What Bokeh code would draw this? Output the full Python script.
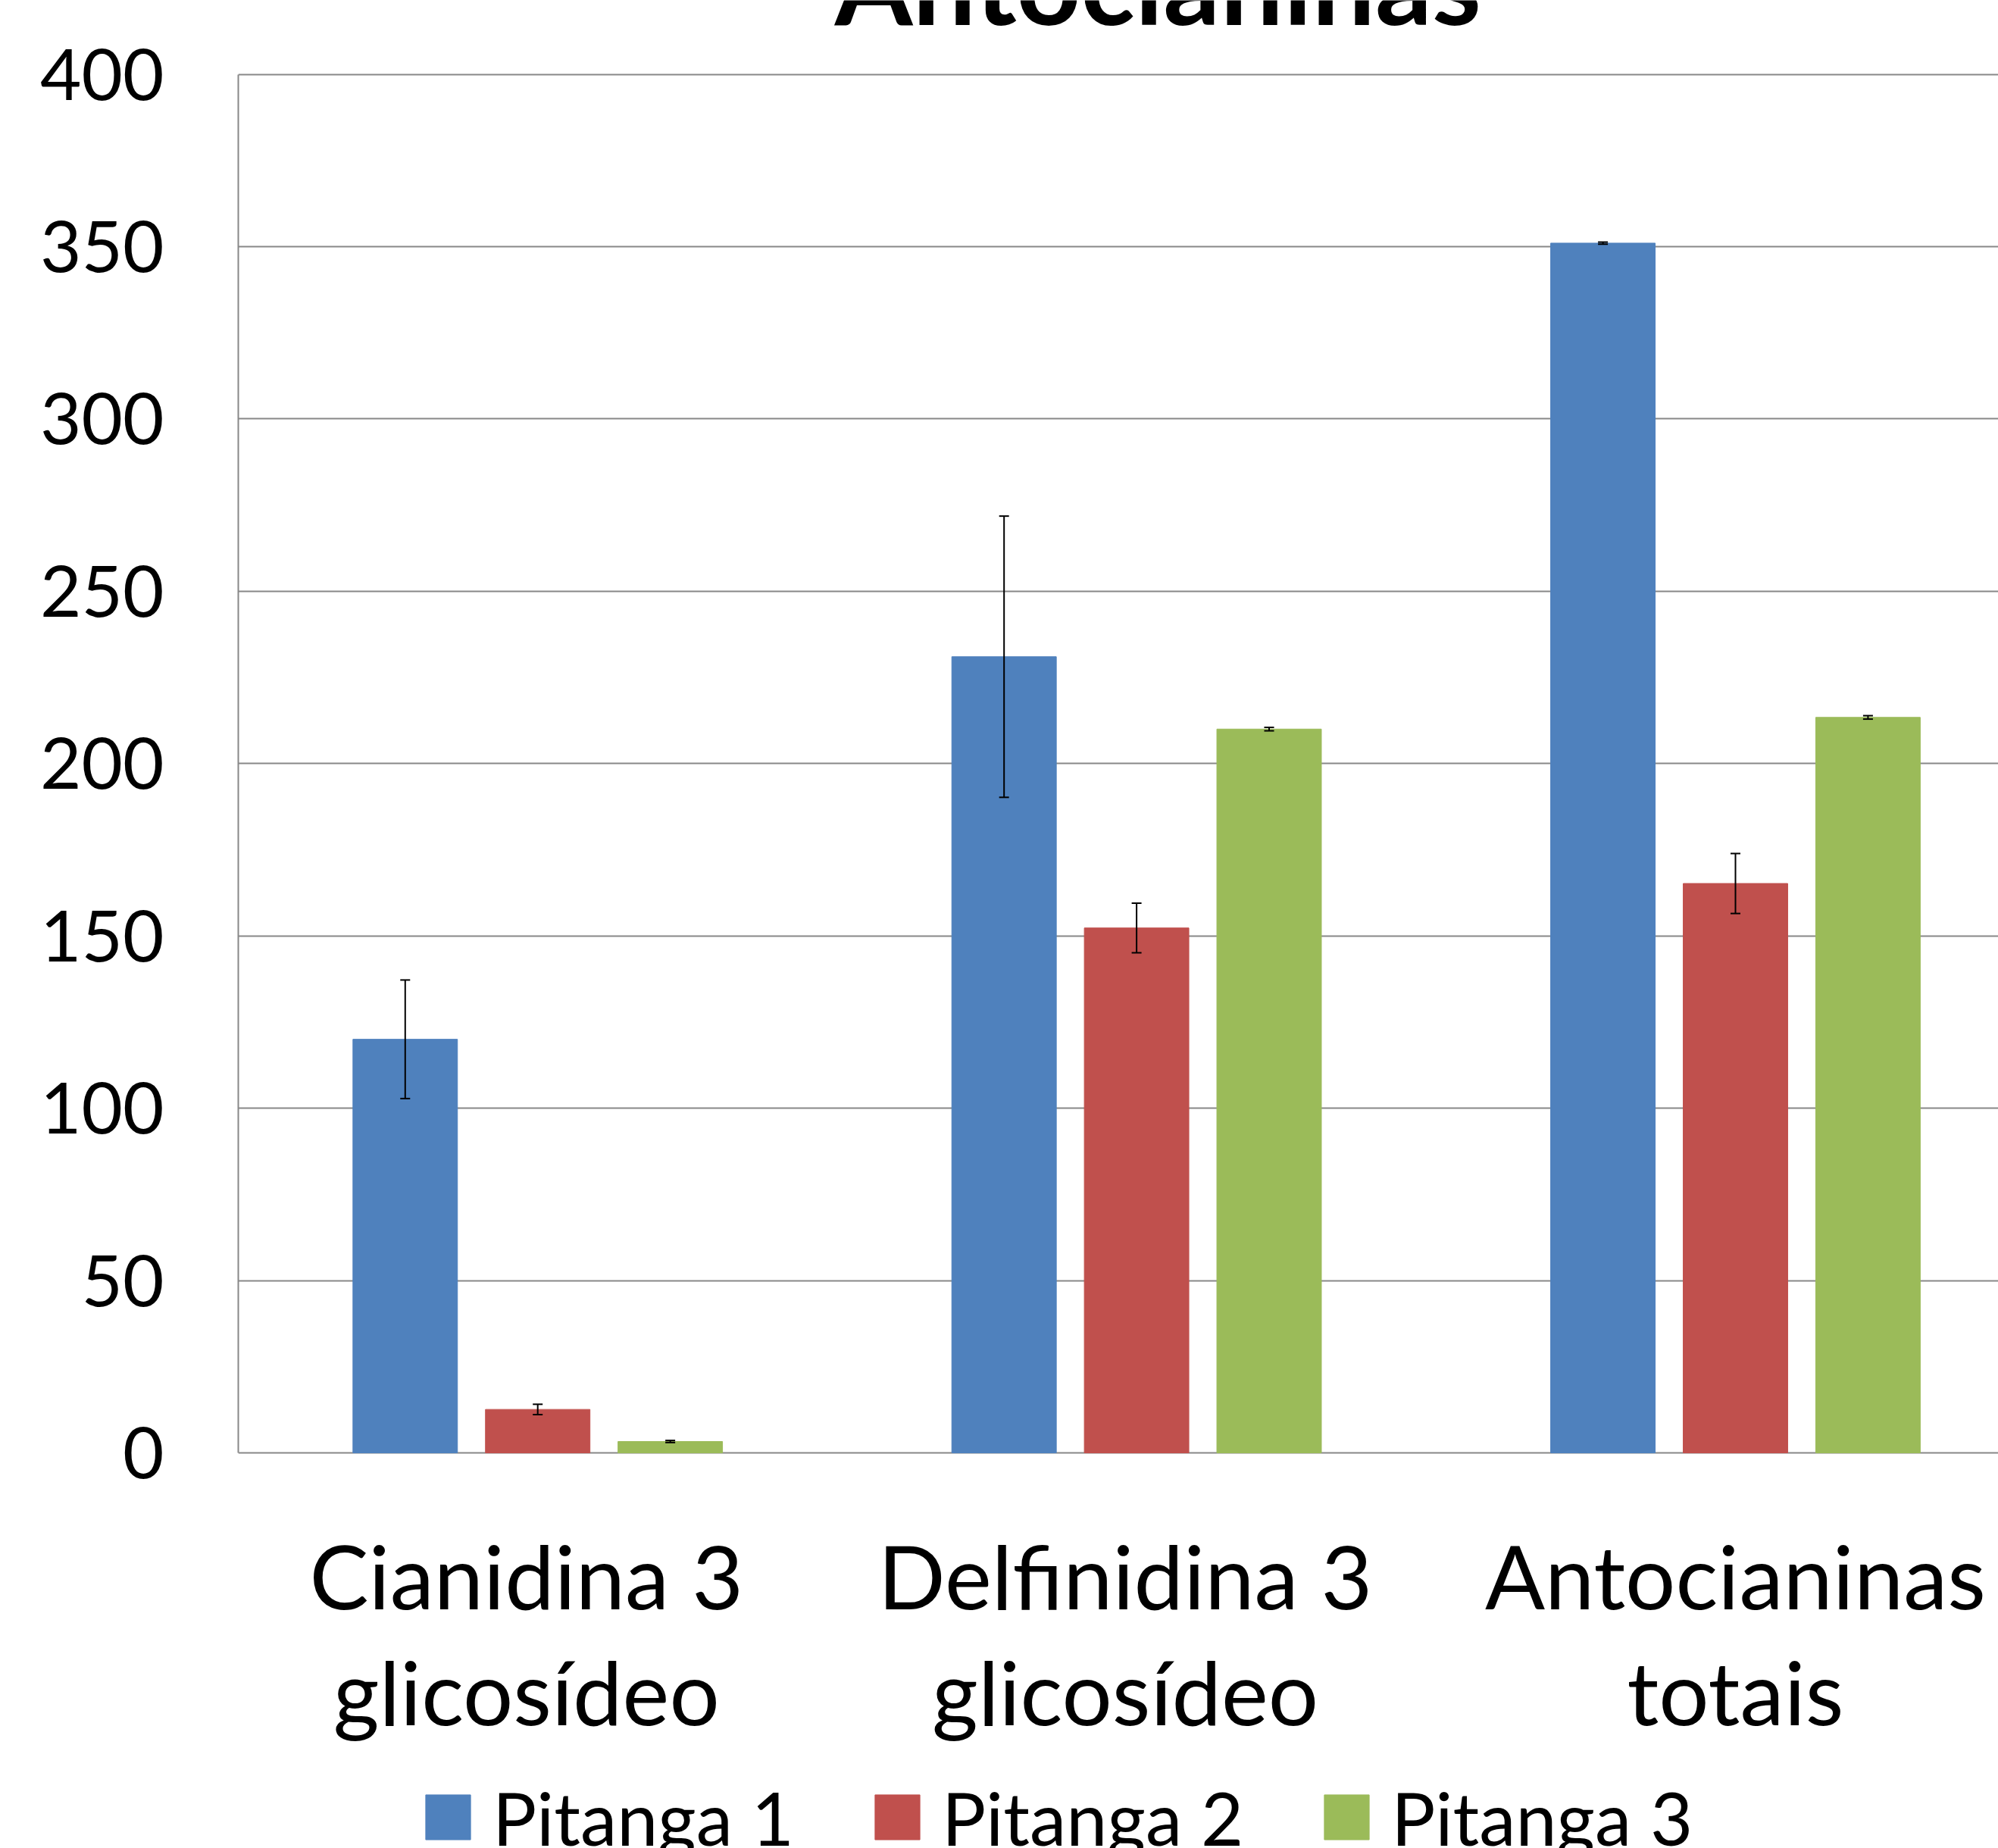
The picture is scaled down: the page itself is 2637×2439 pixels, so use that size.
from bokeh.plotting import figure
from bokeh.models import (ColumnDataSource, Range1d, FixedTicker, Whisker, TeeHead,
                          Legend, LegendItem, Label)
from bokeh.core.properties import value
from bokeh.embed import file_html
from bokeh.resources import INLINE

# ---- data ----
categories = ["Cianidina 3\nglicosídeo", "Delfinidina 3\nglicosídeo", "Antocianinas\ntotais"]
series_names = ["Pitanga 1", "Pitanga 2", "Pitanga 3"]
pitanga1 = [120.0, 231.0, 351.0]
pitanga1_err = [17.2, 40.8, 0.3]
pitanga2 = [12.6, 152.3, 165.2]
pitanga2_err = [1.5, 7.2, 8.7]
pitanga3 = [3.3, 210.0, 213.4]
pitanga3_err = [0.3, 0.5, 0.5]
y_ticks = [0, 50, 100, 150, 200, 250, 300, 350, 400]
title_text = "Antocianinas"

colors = ["#4F81BD", "#C0504D", "#9BBB59"]
FONT = "Lato"

W, H = 2637, 2439
LEFT = 314
TOP_PX, ZERO_PX = 97.5, 1917.0          # pixel rows of 400 and 0
k = (ZERO_PX - TOP_PX) / 400.0           # px per unit
y_top = 400 + TOP_PX / k
y_bot = -(H - ZERO_PX) / k
cat_px = 790.4
x_end = (W - LEFT) / cat_px

p = figure(width=W, height=H, output_backend="svg", toolbar_location=None,
           x_range=Range1d(0, x_end), y_range=Range1d(y_bot, y_top),
           x_axis_location=None,
           min_border_left=LEFT, min_border_right=0, min_border_top=0,
           min_border_bottom=0, background_fill_color="white",
           border_fill_color="white", outline_line_color=None)

centers = [0.5, 1.5, 2.5]
offsets = [-0.2213, 0.0, 0.2213]
bar_w = 0.1745
vals = [pitanga1, pitanga2, pitanga3]
errs = [pitanga1_err, pitanga2_err, pitanga3_err]

# grid
p.xgrid.visible = False
p.ygrid.ticker = FixedTicker(ticks=y_ticks)
p.ygrid.grid_line_color = "#888888"
p.ygrid.grid_line_width = 2

renderers = []
for i in range(3):
    xs = [c + offsets[i] for c in centers]
    src = ColumnDataSource(dict(x=xs, top=vals[i],
                                upper=[v + e for v, e in zip(vals[i], errs[i])],
                                lower=[v - e for v, e in zip(vals[i], errs[i])]))
    r = p.vbar(x="x", top="top", width=bar_w, bottom=0, source=src,
               fill_color=colors[i], line_color=colors[i], line_width=1)
    renderers.append(r)
    wh = Whisker(base="x", upper="upper", lower="lower", source=src, level="overlay",
                 line_color="black", line_width=2,
                 upper_head=TeeHead(size=13, line_color="black", line_width=2),
                 lower_head=TeeHead(size=13, line_color="black", line_width=2))
    p.add_layout(wh)

# y axis
p.yaxis.ticker = FixedTicker(ticks=y_ticks)
p.yaxis.bounds = (0, 400)
p.yaxis.axis_line_color = "#888888"
p.yaxis.axis_line_width = 2
p.yaxis.major_tick_line_color = None
p.yaxis.minor_tick_line_color = None
p.yaxis.major_tick_out = 0
p.yaxis.major_tick_in = 0
p.yaxis.major_label_standoff = 98
p.yaxis.major_label_text_font = FONT
p.yaxis.major_label_text_font_size = "94px"
p.yaxis.major_label_text_color = "black"

# category labels under the zero line
label_y = -(2008 - ZERO_PX) / k
cat_src = ColumnDataSource(dict(x=centers, y=[label_y] * len(centers), text=categories,
                                dx=[-15, -15, 0]))
p.text(x="x", y="y", text="text", x_offset="dx", source=cat_src, text_align="center",
       text_baseline="top", text_font=value(FONT), text_font_size="117px",
       text_line_height=1.095, text_color="black")

# title (cut at the top like the reference)
title = Label(x=1214, y=2464, x_units="screen", y_units="screen", text=title_text,
              text_font=FONT, text_font_style="bold", text_font_size="148px",
              text_align="center", text_baseline="alphabetic", text_color="black")
p.add_layout(title)

# legend (bottom, cut by the edge like the reference)
legend = Legend(items=[LegendItem(label=n, renderers=[r]) for n, r in zip(series_names, renderers)],
                orientation="horizontal", location=(240, -17.5),
                glyph_width=74, glyph_height=74, label_standoff=22, spacing=99,
                padding=0, margin=0, border_line_color=None, background_fill_alpha=0,
                label_text_font=FONT, label_text_font_size="97px", label_text_color="black")
p.add_layout(legend, "center")

open("out.html", "w").write(file_html(p, INLINE))
